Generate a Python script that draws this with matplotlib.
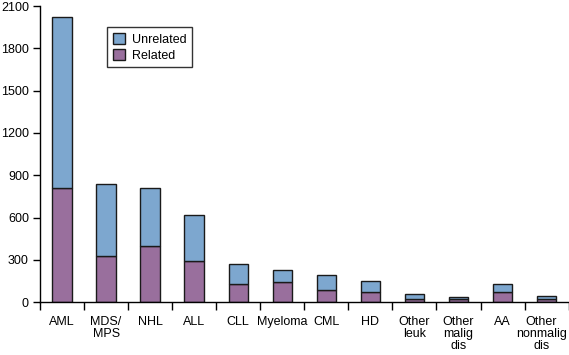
import numpy as np
import matplotlib.pyplot as plt
import matplotlib.transforms as mtransforms
from matplotlib.ticker import FixedLocator

plt.rcParams['font.family'] = ['Liberation Sans', 'DejaVu Sans']

# Data
categories = ['AML', 'MDS/\nMPS', 'NHL', 'ALL', 'CLL', 'Myeloma', 'CML', 'HD',
              'Other\nleuk', 'Other\nmalig\ndis', 'AA', 'Other\nnonmalig\ndis']
related = [810, 330, 395, 290, 130, 140, 85, 70, 25, 20, 75, 20]
total = [2020, 840, 810, 615, 270, 225, 190, 150, 60, 35, 130, 45]
unrelated = [t - r for t, r in zip(total, related)]

blue = '#7da7cf'
purple = '#996f9d'

fig = plt.figure(figsize=(5.69, 3.55), dpi=100)
ax = fig.add_axes([0.0703, 0.149, 0.929, 0.834])

x = np.arange(len(categories))
ax.bar(x, related, width=0.44, color=purple, edgecolor='#1a1a1a', lw=1, label='Related')
ax.bar(x, unrelated, width=0.44, bottom=related, color=blue, edgecolor='#1a1a1a', lw=1,
       label='Unrelated')

ax.set_xlim(-0.5, len(categories) - 0.5)
ax.set_ylim(0, 2100)
ax.set_yticks(np.arange(0, 2101, 300))
ax.set_xticks(x)
ax.set_xticklabels(categories, fontsize=9, linespacing=1.0)
ax.xaxis.set_minor_locator(FixedLocator(np.arange(-0.5, len(categories), 1)))
ax.tick_params(axis='x', which='major', length=0, pad=10)
ax.tick_params(axis='x', which='minor', length=6, width=1, direction='out')
ax.tick_params(axis='y', length=5, width=1, labelsize=9, pad=3)

# nudge the last label so it stays inside the figure
last = ax.get_xticklabels()[-1]
last.set_transform(last.get_transform() +
                   mtransforms.ScaledTranslation(-5 / 100, 0, fig.dpi_scale_trans))

for s in ['top', 'right']:
    ax.spines[s].set_visible(False)
ax.spines['left'].set_linewidth(1)
ax.spines['bottom'].set_linewidth(1)

handles, labels = ax.get_legend_handles_labels()
leg = ax.legend(handles[::-1], labels[::-1], loc='upper left', bbox_to_anchor=(0.127, 0.929),
                borderaxespad=0, fontsize=9, frameon=True, fancybox=False, edgecolor='black',
                handlelength=1.0, handleheight=1.0, borderpad=0.45, labelspacing=0.25,
                handletextpad=0.5)
leg.get_frame().set_linewidth(1)

fig.savefig('out.png', dpi=100)
